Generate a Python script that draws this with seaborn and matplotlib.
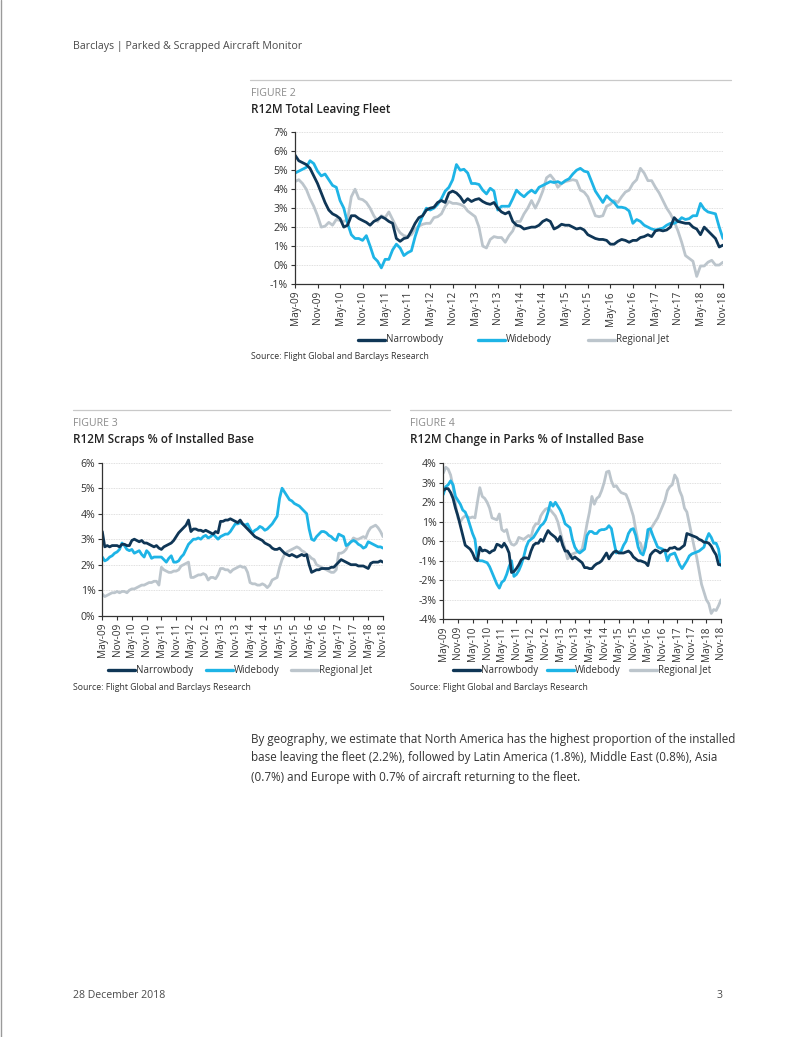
import pandas as pd
import numpy as np
import matplotlib
matplotlib.use("Agg")
import matplotlib.pyplot as plt
import seaborn as sns
from matplotlib.lines import Line2D
from matplotlib.ticker import FuncFormatter

# meses: may-09 .. nov-18 (115 puntos mensuales)
meses = pd.date_range("2009-05-01", "2018-11-01", freq="MS")
etiquetas = [d.strftime("%b-%y") for d in meses]
series = ["Narrowbody", "Widebody", "Regional Jet"]

# FIGURE 2 - R12M Total Leaving Fleet
f2_narrow = [5.8, 5.5, 5.4, 5.3, 5.1, 4.7, 4.3, 3.8, 3.3, 2.9, 2.7, 2.6, 2.45, 2.0, 2.1, 2.6, 2.6, 2.45, 2.35, 2.25,
             2.1, 2.3, 2.4, 2.55, 2.45, 2.3, 2.2, 1.4, 1.25, 1.4, 1.45, 1.8, 2.2, 2.5, 2.6, 2.9, 3.0, 3.05, 3.3, 3.4,
             3.3, 3.8, 3.9, 3.8, 3.6, 3.3, 3.5, 3.35, 3.45, 3.5, 3.35, 3.25, 3.2, 3.3, 3.0, 2.8, 2.7, 2.8, 2.3, 2.1,
             2.05, 1.9, 1.95, 2.0, 2.0, 2.1, 2.3, 2.4, 2.3, 1.9, 2.0, 2.15, 2.1, 2.1, 2.0, 1.9, 1.95, 1.85, 1.6, 1.5,
             1.4, 1.35, 1.35, 1.3, 1.1, 1.1, 1.25, 1.35, 1.3, 1.2, 1.3, 1.3, 1.45, 1.5, 1.6, 1.5, 1.8, 1.85, 1.8, 1.85,
             2.0, 2.5, 2.3, 2.25, 2.2, 2.2, 2.0, 1.9, 1.6, 2.0, 1.8, 1.6, 1.4, 0.95, 1.05]
f2_wide = [4.85, 4.95, 5.05, 5.15, 5.5, 5.35, 4.95, 4.7, 4.8, 4.5, 4.2, 4.1, 3.4, 3.0, 2.2, 1.6, 1.4, 1.4, 1.3, 1.55,
           1.0, 0.4, 0.2, -0.15, 0.3, 0.3, 0.8, 1.1, 0.9, 0.5, 0.65, 0.75, 1.5, 2.1, 2.6, 3.0, 2.9, 3.0, 3.2, 3.5,
           3.9, 4.1, 4.5, 5.3, 5.0, 5.05, 4.85, 4.3, 4.3, 4.25, 3.95, 3.75, 4.05, 3.9, 2.9, 3.1, 3.1, 3.1, 3.5, 3.95,
           3.75, 3.6, 3.8, 3.95, 3.8, 4.1, 4.2, 4.3, 4.4, 4.35, 4.4, 4.3, 4.45, 4.55, 4.8, 5.0, 5.1, 4.95, 4.9, 4.4,
           3.9, 3.6, 3.3, 3.65, 3.45, 3.3, 3.05, 3.05, 3.0, 2.85, 2.2, 2.4, 2.3, 2.1, 2.0, 1.9, 1.85, 1.9, 1.95, 2.1,
           2.2, 2.2, 2.3, 2.5, 2.4, 2.45, 2.6, 2.6, 3.25, 2.95, 2.8, 2.75, 2.7, 2.0, 1.4]
f2_regional = [4.4, 4.5, 4.3, 4.0, 3.5, 3.1, 2.6, 2.0, 2.05, 2.25, 2.1, 2.4, 2.35, 2.3, 2.4, 3.6, 4.0, 3.5, 3.45, 3.3,
               3.0, 2.6, 2.3, 2.6, 2.5, 2.8, 2.4, 2.0, 1.7, 1.55, 1.5, 1.6, 1.9, 2.05, 2.15, 2.2, 2.2, 2.5, 2.55, 2.7,
               3.1, 3.35, 3.25, 3.25, 3.2, 3.1, 2.85, 2.7, 2.55, 2.0, 1.0, 0.9, 1.35, 1.5, 1.45, 1.45, 1.2, 1.55, 1.8, 2.3,
               2.3, 2.7, 3.0, 3.4, 3.0, 3.4, 3.9, 4.6, 4.75, 4.5, 4.1, 4.3, 4.4, 4.45, 4.5, 4.45, 3.95, 3.85, 3.6, 3.1,
               2.6, 2.55, 2.6, 3.1, 3.2, 3.4, 3.3, 3.6, 3.85, 3.95, 4.3, 4.5, 5.1, 4.85, 4.45, 4.45, 4.1, 3.8, 3.4, 3.0,
               2.7, 2.3, 1.8, 1.2, 0.5, 0.35, 0.2, -0.6, -0.05, -0.05, 0.15, 0.25, 0.0, 0.0, 0.15]

# FIGURE 3 - R12M Scraps % of Installed Base
f3_narrow = [3.3, 2.7, 2.75, 2.7, 2.75, 2.75, 2.75, 2.7, 2.8, 2.8, 2.75, 2.75, 2.95, 3.0, 2.95, 2.9, 2.95, 2.85, 2.85, 2.8,
             2.75, 2.7, 2.75, 2.65, 2.6, 2.7, 2.75, 2.8, 2.85, 2.95, 3.1, 3.25, 3.35, 3.45, 3.55, 3.75, 3.3, 3.4, 3.4, 3.35,
             3.35, 3.3, 3.35, 3.3, 3.25, 3.2, 3.3, 3.25, 3.7, 3.7, 3.75, 3.75, 3.8, 3.75, 3.7, 3.65, 3.75, 3.6, 3.5, 3.4,
             3.3, 3.2, 3.1, 3.05, 3.0, 2.95, 2.85, 2.8, 2.75, 2.65, 2.6, 2.6, 2.65, 2.55, 2.45, 2.4, 2.35, 2.4, 2.35, 2.3,
             2.35, 2.4, 2.35, 2.4, 2.0, 1.7, 1.75, 1.8, 1.8, 1.85, 1.85, 1.85, 1.85, 1.9, 1.9, 2.0, 2.1, 2.2, 2.15, 2.1,
             2.05, 2.0, 2.0, 2.0, 1.95, 1.95, 1.95, 1.9, 1.85, 2.05, 2.1, 2.1, 2.1, 2.15, 2.1]
f3_wide = [2.3, 2.15, 2.2, 2.3, 2.35, 2.45, 2.5, 2.6, 2.85, 2.75, 2.6, 2.55, 2.6, 2.45, 2.5, 2.55, 2.4, 2.3, 2.55, 2.45,
           2.25, 2.3, 2.3, 2.3, 2.3, 2.2, 2.1, 2.25, 2.35, 2.1, 2.1, 2.15, 2.3, 2.4, 2.6, 2.8, 2.9, 3.0, 3.0, 3.05,
           3.0, 3.1, 3.15, 3.05, 3.1, 3.2, 3.1, 3.0, 3.1, 3.15, 3.2, 3.2, 3.3, 3.45, 3.6, 3.6, 3.65, 3.6, 3.55, 3.6,
           3.4, 3.25, 3.35, 3.4, 3.5, 3.45, 3.35, 3.4, 3.5, 3.6, 3.75, 3.9, 4.6, 5.0, 4.85, 4.7, 4.55, 4.5, 4.4, 4.35,
           4.3, 4.2, 4.1, 4.0, 3.4, 3.0, 2.95, 3.1, 3.2, 3.3, 3.3, 3.25, 3.15, 3.1, 3.0, 2.95, 3.2, 3.15, 3.1, 2.75,
           2.8, 2.9, 2.95, 2.9, 2.8, 2.75, 2.65, 2.7, 2.9, 2.85, 2.8, 2.75, 2.7, 2.7, 2.65]
f3_regional = [0.85, 0.75, 0.8, 0.85, 0.9, 0.9, 0.95, 0.9, 0.95, 0.95, 0.9, 1.0, 1.05, 1.05, 1.1, 1.15, 1.2, 1.2, 1.25, 1.3,
               1.3, 1.35, 1.35, 1.2, 1.9, 1.8, 1.75, 1.7, 1.7, 1.75, 1.75, 1.8, 1.95, 2.0, 2.05, 2.1, 1.5, 1.5, 1.55, 1.6,
               1.6, 1.65, 1.6, 1.4, 1.5, 1.5, 1.45, 1.6, 1.85, 1.85, 1.8, 1.8, 1.7, 1.8, 1.85, 1.9, 1.95, 1.9, 1.9, 1.7,
               1.3, 1.25, 1.25, 1.2, 1.2, 1.25, 1.2, 1.1, 1.2, 1.4, 1.45, 1.5, 1.9, 2.2, 2.4, 2.5, 2.55, 2.6, 2.65, 2.7,
               2.65, 2.55, 2.5, 2.4, 2.35, 2.25, 2.2, 2.0, 1.95, 1.9, 1.85, 1.8, 1.75, 1.7, 1.7, 1.8, 2.45, 2.45, 2.5, 2.6,
               2.8, 2.9, 3.05, 3.0, 3.0, 3.05, 3.1, 3.05, 3.3, 3.45, 3.5, 3.55, 3.45, 3.3, 3.1]

# FIGURE 4 - R12M Change in Parks % of Installed Base
f4_narrow = [2.6, 2.7, 2.7, 2.5, 2.2, 1.7, 1.3, 0.8, 0.3, -0.2, -0.3, -0.4, -0.6, -0.9, -1.0, -0.3, -0.5, -0.45, -0.5, -0.6,
             -0.5, -0.45, -0.15, -0.2, -0.3, -0.1, -0.3, -0.6, -1.6, -1.55, -1.4, -1.2, -0.95, -0.85, -0.85, -0.9, -0.5, -0.2, -0.1, -0.1,
             0.1, 0.0, 0.3, 0.55, 0.4, 0.3, 0.2, 0.0, 0.25, -0.2, -0.5, -0.5, -0.7, -0.9, -0.8, -0.9, -1.0, -1.1, -1.35, -1.35,
             -1.4, -1.4, -1.25, -1.15, -1.1, -1.0, -0.8, -0.6, -0.9, -0.7, -0.55, -0.5, -0.6, -0.6, -0.6, -0.55, -0.5, -0.6, -0.8, -0.9,
             -1.0, -1.0, -1.05, -1.1, -1.25, -0.7, -0.55, -0.45, -0.5, -0.6, -0.5, -0.45, -0.5, -0.35, -0.35, -0.3, -0.4, -0.4, -0.3, -0.2,
             0.4, 0.35, 0.3, 0.25, 0.2, 0.1, 0.05, -0.05, -0.05, -0.1, -0.25, -0.5, -0.7, -1.2, -1.2]
f4_wide = [2.4, 2.8, 2.9, 3.1, 2.9, 2.3, 2.1, 1.9, 1.6, 1.5, 1.2, 0.8, 0.4, 0.1, -0.9, -1.0, -1.0, -1.05, -1.1, -1.3,
           -1.6, -1.9, -2.2, -2.4, -2.1, -2.0, -1.7, -1.3, -1.0, -1.8, -1.7, -1.5, -1.2, -0.8, -0.3, 0.0, 0.1, 0.2, 0.4, 0.6,
           0.8, 0.9, 1.1, 1.5, 2.0, 1.8, 2.0, 1.8, 1.6, 1.3, 0.9, 0.8, 0.7, 0.1, -0.3, -0.5, -0.6, -0.5, -0.4, 0.3,
           0.5, 0.5, 0.4, 0.4, 0.55, 0.6, 0.6, 0.65, 0.8, 0.65, 0.0, -0.6, -0.55, -0.5, -0.2, 0.0, 0.4, 0.6, 0.65, 0.3,
           -0.3, -0.6, -0.7, -0.3, 0.6, 0.65, 0.3, 0.0, -0.3, -0.35, -0.4, -0.5, -1.0, -0.7, -0.65, -0.6, -0.9, -1.2, -1.4, -1.2,
           -1.0, -0.75, -0.65, -0.6, -0.55, -0.5, -0.4, -0.3, 0.1, 0.4, 0.2, -0.1, -0.1, -0.4, -1.25]
f4_regional = [3.5, 3.8, 3.7, 3.4, 2.8, 1.9, 1.2, 1.0, 1.2, 1.3, 1.25, 1.2, 1.25, 1.2, 2.0, 2.75, 2.3, 2.2, 2.0, 1.7,
               1.2, 1.15, 1.1, 1.4, 0.6, 0.5, 0.6, 0.1, -0.15, -0.2, -0.1, 0.2, 0.15, 0.1, 0.2, 0.3, 0.2, 0.7, 0.9, 0.9,
               1.3, 1.5, 1.65, 1.7, 1.6, 1.45, 1.3, 1.0, 0.5, 0.0, -0.4, -0.9, -0.75, -0.65, -0.6, -0.55, -0.5, -0.4, 0.2, 0.9,
               1.5, 2.3, 1.9, 2.2, 2.3, 2.6, 3.0, 3.55, 3.6, 3.1, 2.8, 2.85, 2.65, 2.5, 2.45, 2.4, 2.1, 1.7, 1.3, 0.6,
               0.0, -0.1, -0.6, -0.1, 0.2, 0.6, 0.8, 1.0, 1.2, 1.5, 1.8, 2.1, 2.6, 2.8, 2.9, 3.4, 3.2, 2.6, 2.3, 1.7,
               1.5, 0.9, 0.3, -0.3, -0.8, -1.5, -2.2, -2.6, -3.0, -3.2, -3.7, -3.5, -3.55, -3.3, -3.0]

colores = {"Narrowbody": "#0f3656", "Widebody": "#1eb4e6", "Regional Jet": "#bcc5cc"}

sns.set_style("white")
plt.rcParams["font.family"] = ["Open Sans", "DejaVu Sans"]

W, H = 802, 1037
fig = plt.figure(figsize=(W / 100, H / 100), dpi=100)
gris_txt = "#4a4a4a"


def fx(x):
    return x / W


def fy(y):
    return 1 - y / H


def grafico(rect, datos, ylim, yticks):
    ax = fig.add_axes(rect)
    df = pd.DataFrame({"m": np.arange(len(meses))})
    for s, v in zip(series, datos):
        assert len(v) == len(meses)
        df[s] = v
    largo = df.melt(id_vars="m", var_name="serie", value_name="valor")
    # gris primero, luego cyan y azul oscuro encima
    for s in ["Regional Jet", "Widebody", "Narrowbody"]:
        sns.lineplot(data=largo[largo["serie"] == s], x="m", y="valor", color=colores[s],
                     linewidth=2.0, ax=ax, legend=False)
    ax.set_xlim(0, len(meses) - 1)
    ax.set_ylim(*ylim)
    ax.set_yticks(yticks)
    ax.yaxis.set_major_formatter(FuncFormatter(lambda v, p: f"{v:.0f}%"))
    ax.set_xticks(np.arange(0, len(meses), 6))
    ax.set_xticklabels(etiquetas[::6], rotation=90)
    ax.set_xlabel("")
    ax.set_ylabel("")
    ax.grid(axis="y", color="#d5d5d5", linewidth=0.6, linestyle=(0, (1, 1)))
    ax.set_axisbelow(True)
    sns.despine(ax=ax)
    for sp in ["left", "bottom"]:
        ax.spines[sp].set_color("#333333")
        ax.spines[sp].set_linewidth(0.9)
    ax.tick_params(axis="both", length=3, width=0.8, color="#333333", labelsize=7.6,
                   labelcolor="#333333", pad=2, left=True, bottom=True)
    ax.tick_params(axis="x", labelsize=7.2)
    return ax


def leyenda(xs, y, largo_linea=27):
    for x0, s in zip(xs, series):
        fig.add_artist(Line2D([fx(x0), fx(x0 + largo_linea)], [fy(y), fy(y)], color=colores[s],
                              linewidth=2.4, transform=fig.transFigure))
        fig.text(fx(x0 + largo_linea + 1), fy(y), s, fontsize=7.0, color="#333333", va="center", ha="left")


def separador(x0, x1, y):
    fig.add_artist(Line2D([fx(x0), fx(x1)], [fy(y), fy(y)], color="#c9c9c9", linewidth=0.9,
                          transform=fig.transFigure))


# encabezado y borde de pagina
fig.add_artist(Line2D([fx(1), fx(1)], [0, 1], color="#9a9a9a", linewidth=1.0, transform=fig.transFigure))
fig.text(fx(73), fy(47), "Barclays | Parked & Scrapped Aircraft Monitor", fontsize=7.7, color=gris_txt,
         va="center", ha="left")

# FIGURE 2
separador(250, 731, 80)
fig.text(fx(251), fy(93), "FIGURE 2", fontsize=7.6, color="#8c8c8c", va="center")
fig.text(fx(251), fy(109), "R12M Total Leaving Fleet", fontsize=8.4, color="#222222", va="center",
         fontweight="semibold")
grafico([fx(295), fy(284), fx(723 - 295), (284 - 132.3) / H],
        [f2_narrow, f2_wide, f2_regional], (-1, 7), range(-1, 8))
leyenda([358, 478, 588], 340)
fig.text(fx(251), fy(357), "Source: Flight Global and Barclays Research", fontsize=6.3, color="#333333",
         va="center")

# FIGURE 3
separador(73, 390, 410)
fig.text(fx(73), fy(424), "FIGURE 3", fontsize=7.6, color="#8c8c8c", va="center")
fig.text(fx(73), fy(439), "R12M Scraps % of Installed Base", fontsize=8.4, color="#222222", va="center",
         fontweight="semibold")
grafico([fx(102.3), fy(615.7), fx(383 - 102.3), (615.7 - 462.7) / H],
        [f3_narrow, f3_wide, f3_regional], (0, 6), range(0, 7))
leyenda([108, 206, 291], 670)
fig.text(fx(73), fy(688), "Source: Flight Global and Barclays Research", fontsize=6.3, color="#333333",
         va="center")

# FIGURE 4
separador(410, 731, 410)
fig.text(fx(410), fy(424), "FIGURE 4", fontsize=7.6, color="#8c8c8c", va="center")
fig.text(fx(410), fy(439), "R12M Change in Parks % of Installed Base", fontsize=8.4, color="#222222",
         va="center", fontweight="semibold")
grafico([fx(443.3), fy(619.3), fx(721 - 443.3), (619.3 - 463.3) / H],
        [f4_narrow, f4_wide, f4_regional], (-4, 4), range(-4, 5))
leyenda([453, 547, 630], 670)
fig.text(fx(410), fy(688), "Source: Flight Global and Barclays Research", fontsize=6.3, color="#333333",
         va="center")

# texto
lineas = ["By geography, we estimate that North America has the highest proportion of the installed",
          "base leaving the fleet (2.2%), followed by Latin America (1.8%), Middle East (0.8%), Asia",
          "(0.7%) and Europe with 0.7% of aircraft returning to the fleet."]
for i, t in enumerate(lineas):
    fig.text(fx(251), fy(739 + 19 * i), t, fontsize=8.35, color="#333333", va="center", ha="left")

# pie de pagina
fig.text(fx(73), fy(996), "28 December 2018", fontsize=7.6, color=gris_txt, va="center")
fig.text(fx(723), fy(996), "3", fontsize=7.6, color=gris_txt, va="center", ha="right")

fig.savefig("out.png", dpi=100)
